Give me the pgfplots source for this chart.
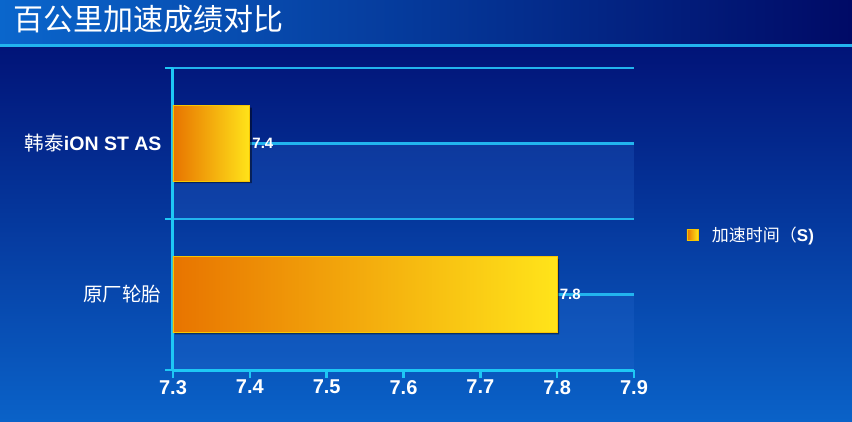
\documentclass[border=0pt]{standalone}
\usepackage{pgfplots}
\pgfplotsset{compat=1.18}
\usepackage{pgfplotstable}
\usepackage{fontspec}
\setmainfont{Liberation Sans}
\newfontfamily\cjk{Noto Sans CJK SC}

\definecolor{bgtop}{HTML}{000A6E}
\definecolor{bgbot}{HTML}{0A62C8}
\definecolor{headl}{HTML}{0A66CC}
\definecolor{headr}{HTML}{000A66}
\definecolor{linec}{HTML}{22B4EE}
\definecolor{axisc}{HTML}{1EC8F5}
\definecolor{bandc}{HTML}{2A6AD0}
\definecolor{barl}{HTML}{E87400}
\definecolor{barr}{HTML}{FFE41A}
\definecolor{bare}{HTML}{F8C400}

% 0 = 原厂轮胎 (bottom), 1 = 韩泰 (top)
\pgfplotstableread{
pos t
0 7.8
1 7.4
}\accel

\pgfplotsset{
  shadowbar/.style={forget plot, xbar, bar width=0.5, bar shift=0pt, fill=black,
    fill opacity=0.45, draw=none, xshift=2pt, yshift=-2pt},
  goldbar/.style={xbar, bar width=0.5, bar shift=0pt,
    left color=barl, right color=barr, draw=bare, line width=1.2pt,
    nodes near coords, point meta=explicit symbolic,
    nodes near coords style={text=white, anchor=west, inner sep=2pt,
      font=\bfseries\fontsize{15}{15}\selectfont}},
}

\begin{document}
\begin{tikzpicture}
\useasboundingbox (0pt,0pt) rectangle (852pt,421pt);
\shade[top color=bgtop, bottom color=bgbot] (0pt,0pt) rectangle (852pt,421pt);
\shade[left color=headl, right color=headr] (0pt,376pt) rectangle (852pt,421pt);
\fill[linec] (0pt,374pt) rectangle (852pt,377pt);
\node[anchor=west, text=white, inner sep=0pt, font=\cjk\fontsize{30}{30}\selectfont] at (13pt,402pt) {百公里加速成绩对比};
% lighter bands in the lower half of each category row
\fill[bandc, fill opacity=0.25] (173pt,202pt) rectangle (634pt,278pt);
\fill[bandc, fill opacity=0.25] (173pt,51pt) rectangle (634pt,126pt);

\begin{axis}[
  at={(173pt,51pt)}, anchor=south west,
  scale only axis, width=461pt, height=302pt,
  xmin=0, xmax=0.6, ymin=-0.5, ymax=1.5,
  axis lines*=left,
  axis line style={axisc, line width=3pt},
  % major ticks carry the labels (no marks), minor ticks draw the marks
  xtick={0,0.1,0.2,0.3,0.4,0.5,0.6},
  minor xtick={0,0.1,0.2,0.3,0.4,0.5,0.6},
  xticklabels={7.3,7.4,7.5,7.6,7.7,7.8,7.9},
  ytick={0,1},
  yticklabels={{\cjk 原厂轮胎},{{\cjk 韩泰}\textbf{iON ST AS}}},
  minor ytick={-0.5,0.5,1.5},
  yminorgrids,
  minor grid style={linec, line width=2pt},
  tick align=outside,
  major tick length=0pt, minor tick length=8pt,
  tick style={axisc, line width=2.5pt},
  xticklabel style={font=\bfseries\fontsize{20}{20}\selectfont, text=white, inner sep=2pt, yshift=-8pt},
  yticklabel style={font=\fontsize{19.5}{20}\selectfont, text=white, xshift=-8pt},
  legend style={draw=none, fill=none, text=white,
    font=\fontsize{17}{17}\selectfont,
    at={(1.107,0.447)}, anchor=west},
]
% grid lines through the middle of each row
\draw[linec, line width=2.2pt] (axis cs:0,0) -- (axis cs:0.6,0);
\draw[linec, line width=2.2pt] (axis cs:0,1) -- (axis cs:0.6,1);

\addplot[shadowbar] table[x expr=\thisrow{t}-7.3, y=pos] {\accel};

% one plot per bar, so that each bar gets its own gradient
\addplot[goldbar, forget plot] table[x expr=\thisrow{t}-7.3, y=pos, meta=t,
  skip coords between index={1}{2}] {\accel};
\addplot[goldbar,
  legend image code/.code={
    \path[draw=none, fill=none] (0pt,0pt) -- (23pt,0pt);
    \shade[left color=barl, right color=barr, draw=bare, line width=0.8pt] (0pt,-5.5pt) rectangle (11pt,5.5pt);}]
  table[x expr=\thisrow{t}-7.3, y=pos, meta=t,
  skip coords between index={0}{1}] {\accel};
\addlegendentry{{\cjk 加速时间（}\textbf{S)}}
\end{axis}
\end{tikzpicture}
\end{document}
